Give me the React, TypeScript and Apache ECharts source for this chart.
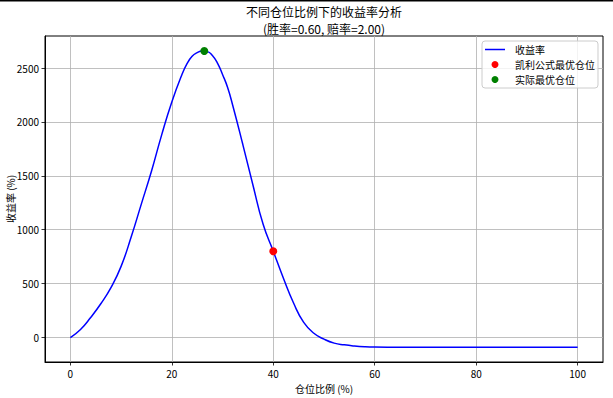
import React, { useEffect, useRef } from "react";
import * as echarts from "echarts";

const positionPct = [0, 2, 4, 6, 8, 10, 12, 14, 16, 18, 20, 22, 23, 24, 25, 26, 27, 28, 29, 30, 31, 32, 34, 36, 38, 40, 42, 44, 46, 48, 50, 52, 54, 56, 58, 60, 65, 70, 75, 80, 85, 90, 95, 100];
const returnPct = [0, 75, 186, 313, 463, 660, 935, 1240, 1545, 1880, 2185, 2440, 2540, 2610, 2643, 2657, 2652, 2616, 2546, 2440, 2320, 2155, 1790, 1413, 1050, 800, 550, 320, 140, 40, -15, -52, -68, -79, -86, -89, -90, -90, -90, -90, -90, -90, -90, -90];

const kellyPoint = [40, 800];
const actualPoint = [26.4, 2658];

const xTicks = [0, 20, 40, 60, 80, 100];
const yTicks = [0, 500, 1000, 1500, 2000, 2500];

const titleLine1 = "不同仓位比例下的收益率分析";
const titleLine2 = "(胜率=0.60, 赔率=2.00)";
const seriesNames = ["收益率", "凯利公式最优仓位", "实际最优仓位"];

const FONT = "'Noto Sans CJK SC', 'Noto Sans', sans-serif";

export default function App() {
  const ref = useRef<HTMLDivElement>(null);
  useEffect(() => {
    if (!ref.current) return;
    const chart = echarts.init(ref.current, undefined, { renderer: "svg" });
    const lineData = positionPct.map((x, i) => [x, returnPct[i]]);
    chart.setOption({
      animation: false,
      backgroundColor: "#ffffff",
      textStyle: { fontFamily: FONT },
      graphic: [
        { type: "rect", shape: { x: 0, y: 0, width: 613, height: 1.5 }, style: { fill: "#000" }, silent: true },
        {
          type: "text",
          x: 324,
          y: 11,
          style: { text: titleLine1, fontSize: 12, lineHeight: 14, fontFamily: FONT, fill: "#000", textAlign: "center", textVerticalAlign: "middle" },
        },
        {
          type: "text",
          x: 324,
          y: 28.5,
          style: { text: titleLine2, fontSize: 12, lineHeight: 14, fontFamily: FONT, fill: "#000", textAlign: "center", textVerticalAlign: "middle" },
        },
      ],
      grid: {
        left: 45,
        right: 10,
        top: 36,
        bottom: 36,
        show: true,
        borderColor: "#000",
        borderWidth: 1,
        backgroundColor: "#fff",
        containLabel: false,
        outerBoundsMode: "none",
      },
      legend: {
        orient: "vertical",
        right: 15,
        top: 41,
        padding: [3, 3, 3, 3],
        itemGap: 4,
        itemWidth: 20,
        itemHeight: 7,
        symbolKeepAspect: true,
        backgroundColor: "rgba(255,255,255,0.8)",
        borderColor: "#cccccc",
        borderWidth: 1,
        borderRadius: 3,
        textStyle: { fontSize: 10, lineHeight: 11, color: "#000", fontFamily: FONT, padding: [0, 0, 0, 5] },
        data: [
          { name: seriesNames[0], icon: "path://M0,0H20V1.5H0Z", itemStyle: { color: "#0000ff" } },
          { name: seriesNames[1], icon: "circle" },
          { name: seriesNames[2], icon: "circle" },
        ],
      },
      xAxis: {
        type: "value",
        min: -5,
        max: 105,
        name: "仓位比例 (%)",
        nameLocation: "middle",
        nameGap: 21,
        nameMoveOverlap: false,
        nameTextStyle: { fontSize: 10, color: "#000", fontFamily: FONT },
        axisLine: { show: true, onZero: false, lineStyle: { color: "#000", width: 1 } },
        axisTick: { show: true, length: 3.5, inside: false, customValues: xTicks, lineStyle: { color: "#000", width: 0.8 } },
        axisLabel: { customValues: xTicks, fontSize: 10, color: "#000", margin: 6, fontFamily: FONT, formatter: (v: number) => String(v) },
        splitLine: { show: true, lineStyle: { color: "#b0b0b0", width: 0.8 } },
      },
      yAxis: {
        type: "value",
        min: -227,
        max: 2797,
        name: "收益率 (%)",
        nameLocation: "middle",
        nameRotate: 90,
        nameGap: 30,
        nameMoveOverlap: false,
        nameTextStyle: { fontSize: 10, color: "#000", fontFamily: FONT },
        axisLine: { show: true, onZero: false, lineStyle: { color: "#000", width: 1 } },
        axisTick: { show: true, length: 3.5, inside: false, customValues: yTicks, lineStyle: { color: "#000", width: 0.8 } },
        axisLabel: { customValues: yTicks, fontSize: 10, color: "#000", margin: 6, fontFamily: FONT, formatter: (v: number) => String(v) },
        splitLine: { show: true, lineStyle: { color: "#b0b0b0", width: 0.8 } },
      },
      series: [
        {
          name: seriesNames[0],
          type: "line",
          data: lineData,
          smooth: 0.5,
          symbol: "none",
          showSymbol: false,
          lineStyle: { color: "#0000ff", width: 1.5 },
          itemStyle: { color: "#0000ff" },
          z: 2,
        },
        {
          name: seriesNames[1],
          type: "scatter",
          data: [kellyPoint],
          symbol: "circle",
          symbolSize: 8,
          itemStyle: { color: "#ff0000", opacity: 1 },
          z: 3,
        },
        {
          name: seriesNames[2],
          type: "scatter",
          data: [actualPoint],
          symbol: "circle",
          symbolSize: 8,
          itemStyle: { color: "#008000", opacity: 1 },
          z: 3,
        },
      ],
    });
    return () => chart.dispose();
  }, []);
  return (
    <div
      ref={ref}
      style={{ position: "fixed", left: 0, top: 0, width: 613, height: 398 }}
    />
  );
}
